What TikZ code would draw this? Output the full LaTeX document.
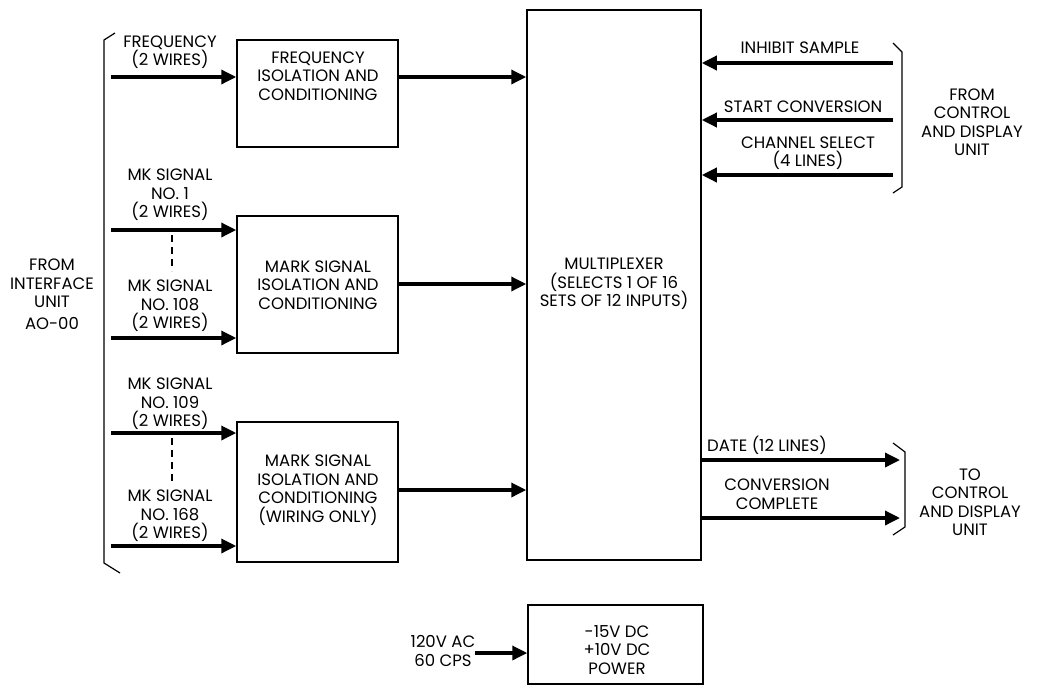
\documentclass[tikz,border=0pt]{standalone}
\usepackage{fontspec}
\setmainfont{Poppins}
\usetikzlibrary{arrows.meta}
\begin{document}
\begin{tikzpicture}[x=1pt,y=-1pt,
  box/.style={draw,line width=1.5pt,inner sep=0pt},
  txt/.style={align=center,font=\fontsize{16.5}{18.5}\selectfont,inner sep=0pt},
  arr/.style={line width=3.4pt,-{Triangle[length=15pt,width=14pt]}},
  brk/.style={line width=1.2pt},
  dsh/.style={line width=1.2pt,dash pattern=on 7pt off 5pt}]
\useasboundingbox (0,0) rectangle (1041,686);
% boxes
\node[box,minimum width=161pt,minimum height=107pt] (freq) at (317.5,93.5) {};
\node[box,minimum width=161pt,minimum height=137pt] (mk1) at (317.5,284.5) {};
\node[box,minimum width=161pt,minimum height=140pt] (mk2) at (317.5,492) {};
\node[box,minimum width=174pt,minimum height=550pt] (mux) at (614,285) {};
\node[box,minimum width=175pt,minimum height=79pt] (pwr) at (615.5,644.5) {};
% box texts
\node[txt] (freqt) at (318,76) {FREQUENCY\\ISOLATION AND\\CONDITIONING};
\node[txt] (mk1t) at (318,285) {MARK SIGNAL\\ISOLATION AND\\CONDITIONING};
\node[txt] (mk2t) at (318,490) {MARK SIGNAL\\ISOLATION AND\\CONDITIONING\\(WIRING ONLY)};
\node[txt] (muxt) at (614,284) {MULTIPLEXER\\(SELECTS 1 OF 16\\SETS OF 12 INPUTS)};
\node[txt] (pwrt) at (617,650) {-15V DC\\+10V DC\\POWER};
% left side
\node[txt] (from) at (52,294) {FROM\\INTERFACE\\UNIT\\[3pt]AO-00};
\draw[brk] (115,33) -- (104,40) -- (104,563) -- (120,573);
\coordinate (f) at (111,77);
\coordinate (a1) at (111,230);
\coordinate (a108) at (111,338);
\coordinate (a109) at (111,433);
\coordinate (a168) at (111,546);
\node[txt] (lf) at (170,52) {FREQUENCY\\(2 WIRES)};
\node[txt] (l1) at (170,195) {MK SIGNAL\\NO. 1\\(2 WIRES)};
\node[txt] (l108) at (170,306) {MK SIGNAL\\NO. 108\\(2 WIRES)};
\node[txt] (l109) at (170,404) {MK SIGNAL\\NO. 109\\(2 WIRES)};
\node[txt] (l168) at (170,516) {MK SIGNAL\\NO. 168\\(2 WIRES)};
\draw[arr] (f) -- (f -| freq.west);
\draw[arr] (a1) -- (a1 -| mk1.west);
\draw[arr] (a108) -- (a108 -| mk1.west);
\draw[arr] (a109) -- (a109 -| mk2.west);
\draw[arr] (a168) -- (a168 -| mk2.west);
\coordinate (d1a) at (172,235); \coordinate (d1b) at (172,271);
\coordinate (d2a) at (172,438); \coordinate (d2b) at (172,481);
\draw[dsh] (d1a) -- (d1b);
\draw[dsh] (d2a) -- (d2b);
% to multiplexer
\draw[arr] (freq.east |- f) -- (mux.west |- f);
\draw[arr] (mk1.east |- 0,284) -- (mux.west |- 0,284);
\draw[arr] (mk2.east |- 0,490) -- (mux.west |- 0,490);
% right top inputs
\coordinate (i1) at (893,63);
\coordinate (i2) at (893,120);
\coordinate (i3) at (893,175);
\draw[arr] (i1) -- (i1 -| mux.east);
\draw[arr] (i2) -- (i2 -| mux.east);
\draw[arr] (i3) -- (i3 -| mux.east);
\node[txt] (li1) at (800,48) {INHIBIT SAMPLE};
\node[txt] (li2) at (803,107) {START CONVERSION};
\node[txt] (li3) at (808,153) {CHANNEL SELECT\\(4 LINES)};
\draw[brk] (893,43) -- (902,52) -- (902,187) -- (893,193);
\node[txt] (fc) at (972,122) {FROM\\CONTROL\\AND DISPLAY\\UNIT};
% right bottom outputs
\coordinate (o1) at (900,460);
\coordinate (o2) at (900,518);
\draw[arr] (o1 -| mux.east) -- (o1);
\draw[arr] (o2 -| mux.east) -- (o2);
\node[txt] (lo1) at (767,445) {DATE (12 LINES)};
\node[txt] (lo2) at (777,494) {CONVERSION\\COMPLETE};
\draw[brk] (893,443) -- (905,452) -- (905,527) -- (893,535);
\node[txt] (tc) at (970,502) {TO\\CONTROL\\AND DISPLAY\\UNIT};
% power
\coordinate (p) at (475,653);
\draw[arr] (p) -- (p -| pwr.west);
\node[txt] (lp) at (443,651) {120V AC\\60 CPS};
\end{tikzpicture}
\end{document}
